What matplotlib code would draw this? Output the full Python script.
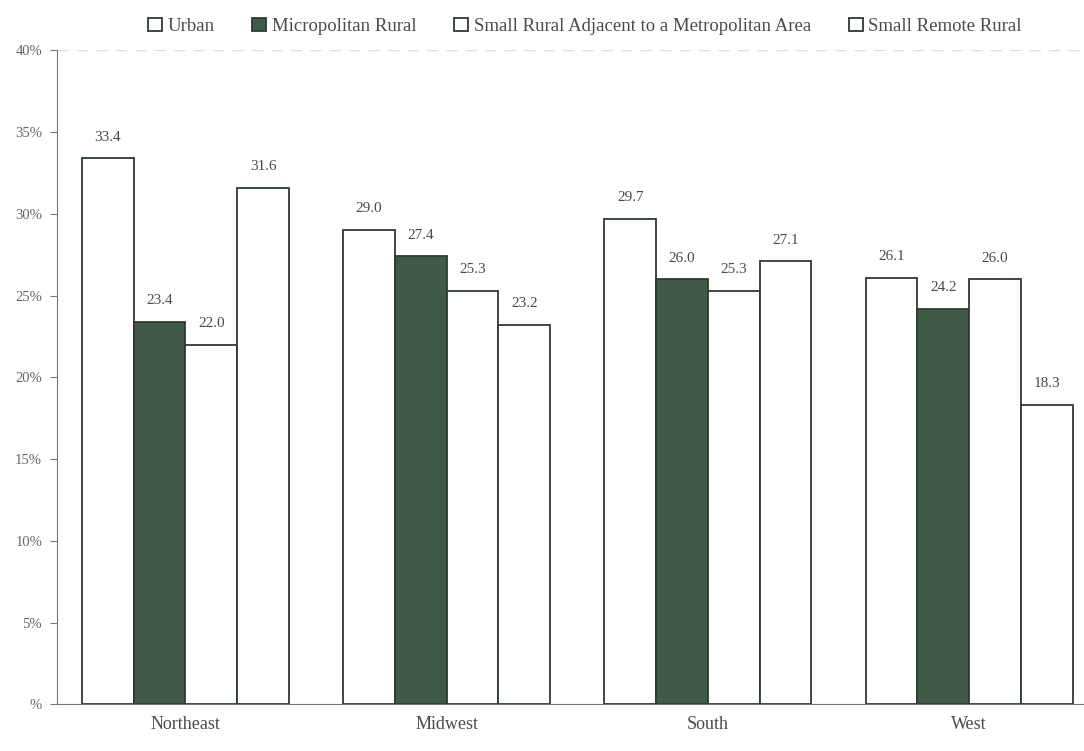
import matplotlib.pyplot as plt
import numpy as np

plt.rcParams['font.family'] = ['Liberation Serif', 'DejaVu Serif']

regions = ['Northeast', 'Midwest', 'South', 'West']
series = ['Urban', 'Micropolitan Rural',
          'Small Rural Adjacent to a Metropolitan Area', 'Small Remote Rural']
urban = [33.4, 29.0, 29.7, 26.1]
micro = [23.4, 27.4, 26.0, 24.2]
adjacent = [22.0, 25.3, 25.3, 26.0]
remote = [31.6, 23.2, 27.1, 18.3]
yticks = [0, 5, 10, 15, 20, 25, 30, 35, 40]

values = [urban, micro, adjacent, remote]
fills = ['white', '#3f5a46', 'white', 'white']
edge = '#2e3a31'
txt = '#4a4a4a'

fig = plt.figure(figsize=(10.84, 7.51), dpi=100)
ax = fig.add_axes([0.053, 0.062, 0.947, 0.871])

x = np.arange(len(regions))
w = 0.198
for i, (vals, fc) in enumerate(zip(values, fills)):
    pos = x + (i - 1.5) * w
    ax.bar(pos, vals, w, color=fc, edgecolor=edge, linewidth=1.3, label=series[i])
    for p, v in zip(pos, vals):
        ax.text(p, v + 0.9, f'{v:.1f}', ha='center', va='bottom',
                fontsize=11, color=txt)

ax.set_xlim(-0.49, 3.44)
ax.set_ylim(0, 40)
ax.set_yticks(yticks)
ax.set_yticklabels([f'{t}%' if t else '%' for t in yticks], fontsize=10.5, color='#666666')
ax.set_xticks(x)
ax.set_xticklabels(regions, fontsize=13, color=txt)
ax.tick_params(axis='x', length=0, pad=8)
ax.tick_params(axis='y', length=5, color='#777777', pad=6)
ax.axhline(40, color='#dddddd', linewidth=1, linestyle=(0, (8, 6)))
for s in ['top', 'right']:
    ax.spines[s].set_visible(False)
ax.spines['left'].set_color('#777777')
ax.spines['bottom'].set_color('#777777')

ax.legend(loc='lower left', bbox_to_anchor=(0.081, 1.012), ncol=4, frameon=False,
          fontsize=13.5, handlelength=0.75, handleheight=0.75, handletextpad=0.3,
          columnspacing=2.0, labelcolor=txt, borderaxespad=0)

fig.savefig('out.png', dpi=100)
